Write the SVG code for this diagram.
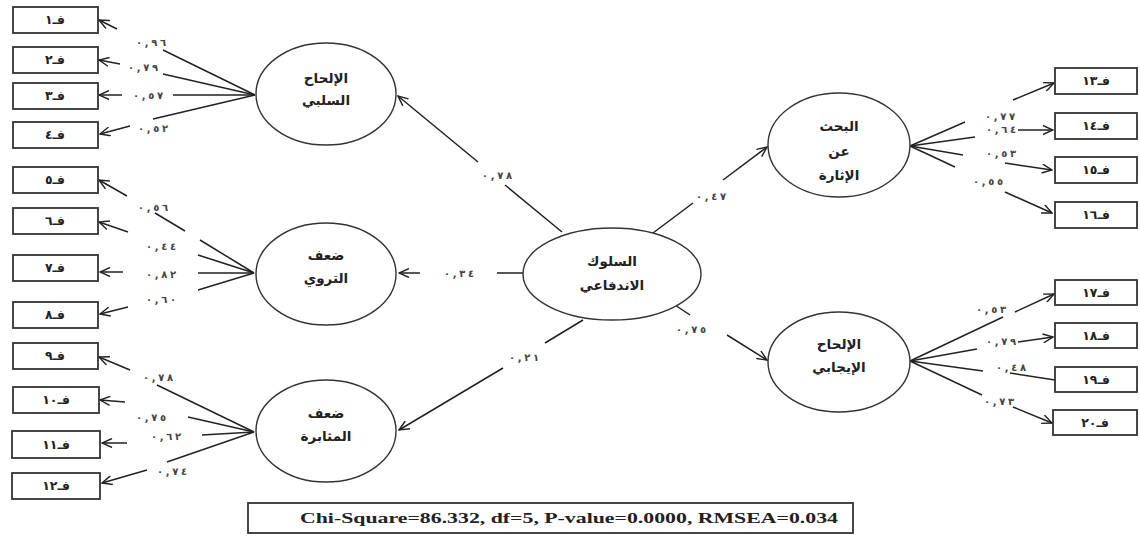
<svg xmlns="http://www.w3.org/2000/svg" width="1140" height="537" viewBox="0 0 1140 537">
<style>
.bg{fill:#fff}
.box{fill:#fff;stroke:#333;stroke-width:1.8}
.ell{fill:#fff;stroke:#333;stroke-width:1.4}
.ln{fill:none;stroke:#222;stroke-width:1.5}
.bt{font-family:"DejaVu Sans",sans-serif;font-weight:bold;font-size:12.5px;fill:#222;text-anchor:middle}
.et{font-family:"DejaVu Sans",sans-serif;font-weight:bold;font-size:13.5px;fill:#222;text-anchor:middle}
.lb{font-family:"DejaVu Sans",sans-serif;font-weight:bold;font-size:10px;fill:#444;text-anchor:middle}
.fit{font-family:"Liberation Serif",serif;font-weight:bold;font-size:15px;fill:#222}
</style>
<defs>
<marker id="arr" viewBox="0 0 12 10" refX="11" refY="5" markerWidth="12" markerHeight="10" markerUnits="userSpaceOnUse" orient="auto">
<path d="M1,0.5 L11,5 L1,9.5" fill="none" stroke="#222" stroke-width="1.4"/>
</marker>
</defs>
<rect class="bg" x="0" y="0" width="1140" height="537"/>

<g id="connectors">
<path class="ln" d="M255,95 L163,50 M117,29 L99,20" marker-end="url(#arr)"/>
<path class="ln" d="M255,95 L163,74 M120,64 L99,60" marker-end="url(#arr)"/>
<path class="ln" d="M255,95 L173,95 M122,95 L99,95" marker-end="url(#arr)"/>
<path class="ln" d="M255,95 L153,119 M130,126 L100,134" marker-end="url(#arr)"/>

<path class="ln" d="M254,273 L200,240 M185,231 L155,213 M127,196 L99,180" marker-end="url(#arr)"/>
<path class="ln" d="M254,273 L198,255 M128,232 L99,222" marker-end="url(#arr)"/>
<path class="ln" d="M254,273 L198,273 M123,272 L100,272" marker-end="url(#arr)"/>
<path class="ln" d="M254,273 L198,290 M128,307 L100,314" marker-end="url(#arr)"/>

<path class="ln" d="M254,432 L157,385 M130,370 L99,357" marker-end="url(#arr)"/>
<path class="ln" d="M254,432 L188,417 M125,402 L100,400" marker-end="url(#arr)"/>
<path class="ln" d="M254,432 L202,435 M127,443 L102,443" marker-end="url(#arr)"/>
<path class="ln" d="M254,432 L167,462 M147,470 L102,483" marker-end="url(#arr)"/>

<path class="ln" d="M562,232 L505,185 M478,162 L398,96" marker-end="url(#arr)"/>
<path class="ln" d="M525,273 L497,273 M420,273 L399,273" marker-end="url(#arr)"/>
<path class="ln" d="M583,320 L545,343 M503,368 L399,430" marker-end="url(#arr)"/>
<path class="ln" d="M653,233 L693,203 M723,180 L767,147" marker-end="url(#arr)"/>
<path class="ln" d="M675,305 L690,315 M727,335 L767,360" marker-end="url(#arr)"/>

<path class="ln" d="M910,146 L965,122 M1013,100 L1054,83" marker-end="url(#arr)"/>
<path class="ln" d="M910,146 L975,137 M1018,130 L1053,130" marker-end="url(#arr)"/>
<path class="ln" d="M910,146 L963,155 M1005,163 L1052,170" marker-end="url(#arr)"/>
<path class="ln" d="M910,146 L955,167 M1005,192 L1052,213" marker-end="url(#arr)"/>

<path class="ln" d="M910,361 L1003,317 M1015,312 L1054,294" marker-end="url(#arr)"/>
<path class="ln" d="M910,361 L977,349 M1018,342 L1053,337" marker-end="url(#arr)"/>
<path class="ln" d="M910,361 L983,371 M1010,373 L1055,380"/>
<path class="ln" d="M910,361 L982,395 M1013,407 L1052,423" marker-end="url(#arr)"/>
</g>

<g id="coef-labels">
<text class="lb" x="151" y="46" textLength="30" lengthAdjust="spacing">٠,٩٦</text>
<text class="lb" x="143" y="71" textLength="30" lengthAdjust="spacing">٠,٧٩</text>
<text class="lb" x="148" y="99" textLength="30" lengthAdjust="spacing">٠,٥٧</text>
<text class="lb" x="153" y="132" textLength="30" lengthAdjust="spacing">٠,٥٢</text>
<text class="lb" x="153" y="211" textLength="30" lengthAdjust="spacing">٠,٥٦</text>
<text class="lb" x="161" y="250" textLength="30" lengthAdjust="spacing">٠,٤٤</text>
<text class="lb" x="161" y="278" textLength="30" lengthAdjust="spacing">٠,٨٢</text>
<text class="lb" x="161" y="303" textLength="30" lengthAdjust="spacing">٠,٦٠</text>
<text class="lb" x="158" y="381" textLength="30" lengthAdjust="spacing">٠,٧٨</text>
<text class="lb" x="151" y="421" textLength="30" lengthAdjust="spacing">٠,٧٥</text>
<text class="lb" x="166" y="440" textLength="30" lengthAdjust="spacing">٠,٦٢</text>
<text class="lb" x="172" y="475" textLength="30" lengthAdjust="spacing">٠,٧٤</text>
<text class="lb" x="497" y="179" textLength="30" lengthAdjust="spacing">٠,٧٨</text>
<text class="lb" x="459" y="277" textLength="30" lengthAdjust="spacing">٠,٣٤</text>
<text class="lb" x="524" y="361" textLength="30" lengthAdjust="spacing">٠,٢١</text>
<text class="lb" x="711" y="200" textLength="30" lengthAdjust="spacing">٠,٤٧</text>
<text class="lb" x="691" y="333" textLength="30" lengthAdjust="spacing">٠,٧٥</text>
<text class="lb" x="1000" y="120" textLength="30" lengthAdjust="spacing">٠,٧٧</text>
<text class="lb" x="1001" y="133" textLength="30" lengthAdjust="spacing">٠,٦٤</text>
<text class="lb" x="1001" y="157" textLength="30" lengthAdjust="spacing">٠,٥٣</text>
<text class="lb" x="988" y="185" textLength="30" lengthAdjust="spacing">٠,٥٥</text>
<text class="lb" x="991" y="313" textLength="30" lengthAdjust="spacing">٠,٥٣</text>
<text class="lb" x="1001" y="345" textLength="30" lengthAdjust="spacing">٠,٧٩</text>
<text class="lb" x="1011" y="371" textLength="30" lengthAdjust="spacing">٠,٤٨</text>
<text class="lb" x="999" y="405" textLength="30" lengthAdjust="spacing">٠,٧٣</text>
</g>

<g id="n-f1"><rect class="box" x="13" y="7" width="85" height="26"/><text class="bt" x="55" y="24">فـ١</text></g>
<g id="n-f2"><rect class="box" x="13" y="47" width="85" height="26"/><text class="bt" x="55" y="64">فـ٢</text></g>
<g id="n-f3"><rect class="box" x="13" y="83" width="85" height="26"/><text class="bt" x="55" y="100">فـ٣</text></g>
<g id="n-f4"><rect class="box" x="13" y="122" width="85" height="26"/><text class="bt" x="55" y="139">فـ٤</text></g>
<g id="n-f5"><rect class="box" x="13" y="167" width="85" height="26"/><text class="bt" x="55" y="184">فـ٥</text></g>
<g id="n-f6"><rect class="box" x="13" y="208" width="85" height="26"/><text class="bt" x="55" y="225">فـ٦</text></g>
<g id="n-f7"><rect class="box" x="13" y="255" width="85" height="26"/><text class="bt" x="55" y="272">فـ٧</text></g>
<g id="n-f8"><rect class="box" x="13" y="302" width="85" height="26"/><text class="bt" x="55" y="319">فـ٨</text></g>
<g id="n-f9"><rect class="box" x="13" y="343" width="85" height="26"/><text class="bt" x="55" y="360">فـ٩</text></g>
<g id="n-f10"><rect class="box" x="13" y="387" width="86" height="26"/><text class="bt" x="56" y="404">فـ١٠</text></g>
<g id="n-f11"><rect class="box" x="12" y="431" width="88" height="27"/><text class="bt" x="56" y="449">فـ١١</text></g>
<g id="n-f12"><rect class="box" x="12" y="473" width="88" height="26"/><text class="bt" x="56" y="490">فـ١٢</text></g>

<g id="n-f13"><rect class="box" x="1055" y="68" width="82" height="26"/><text class="bt" x="1096" y="85">فـ١٣</text></g>
<g id="n-f14"><rect class="box" x="1055" y="113" width="82" height="26"/><text class="bt" x="1096" y="130">فـ١٤</text></g>
<g id="n-f15"><rect class="box" x="1055" y="157" width="82" height="26"/><text class="bt" x="1096" y="174">فـ١٥</text></g>
<g id="n-f16"><rect class="box" x="1055" y="202" width="82" height="26"/><text class="bt" x="1096" y="219">فـ١٦</text></g>
<g id="n-f17"><rect class="box" x="1055" y="280" width="82" height="25"/><text class="bt" x="1096" y="297">فـ١٧</text></g>
<g id="n-f18"><rect class="box" x="1055" y="323" width="82" height="25"/><text class="bt" x="1096" y="340">فـ١٨</text></g>
<g id="n-f19"><rect class="box" x="1055" y="367" width="82" height="25"/><text class="bt" x="1096" y="384">فـ١٩</text></g>
<g id="n-f20"><rect class="box" x="1053" y="410" width="84" height="25"/><text class="bt" x="1095" y="427">فـ٢٠</text></g>

<g id="n-neg"><ellipse class="ell" cx="326" cy="94" rx="70" ry="51"/><text class="et" x="326" y="83">الإلحاح</text><text class="et" x="326" y="105">السلبي</text></g>
<g id="n-delib"><ellipse class="ell" cx="326" cy="274" rx="70" ry="51"/><text class="et" x="326" y="260">ضعف</text><text class="et" x="326" y="283">التروي</text></g>
<g id="n-pers"><ellipse class="ell" cx="326" cy="431" rx="70" ry="51"/><text class="et" x="326" y="418">ضعف</text><text class="et" x="326" y="441">المثابرة</text></g>
<g id="n-impulse"><ellipse class="ell" cx="612" cy="274" rx="89" ry="46"/><text class="et" x="612" y="266">السلوك</text><text class="et" x="612" y="290">الاندفاعي</text></g>
<g id="n-sens"><ellipse class="ell" cx="839" cy="145" rx="71" ry="52"/><text class="et" x="839" y="131">البحث</text><text class="et" x="839" y="156">عن</text><text class="et" x="839" y="180">الإثارة</text></g>
<g id="n-pos"><ellipse class="ell" cx="839" cy="362" rx="71" ry="50"/><text class="et" x="839" y="349">الإلحاح</text><text class="et" x="839" y="372">الإيجابي</text></g>

<g id="fit-box"><rect class="box" x="248" y="503" width="605" height="30"/><text class="fit" x="300" y="523" textLength="538" lengthAdjust="spacingAndGlyphs">Chi-Square=86.332, df=5, P-value=0.0000, RMSEA=0.034</text></g>
</svg>
